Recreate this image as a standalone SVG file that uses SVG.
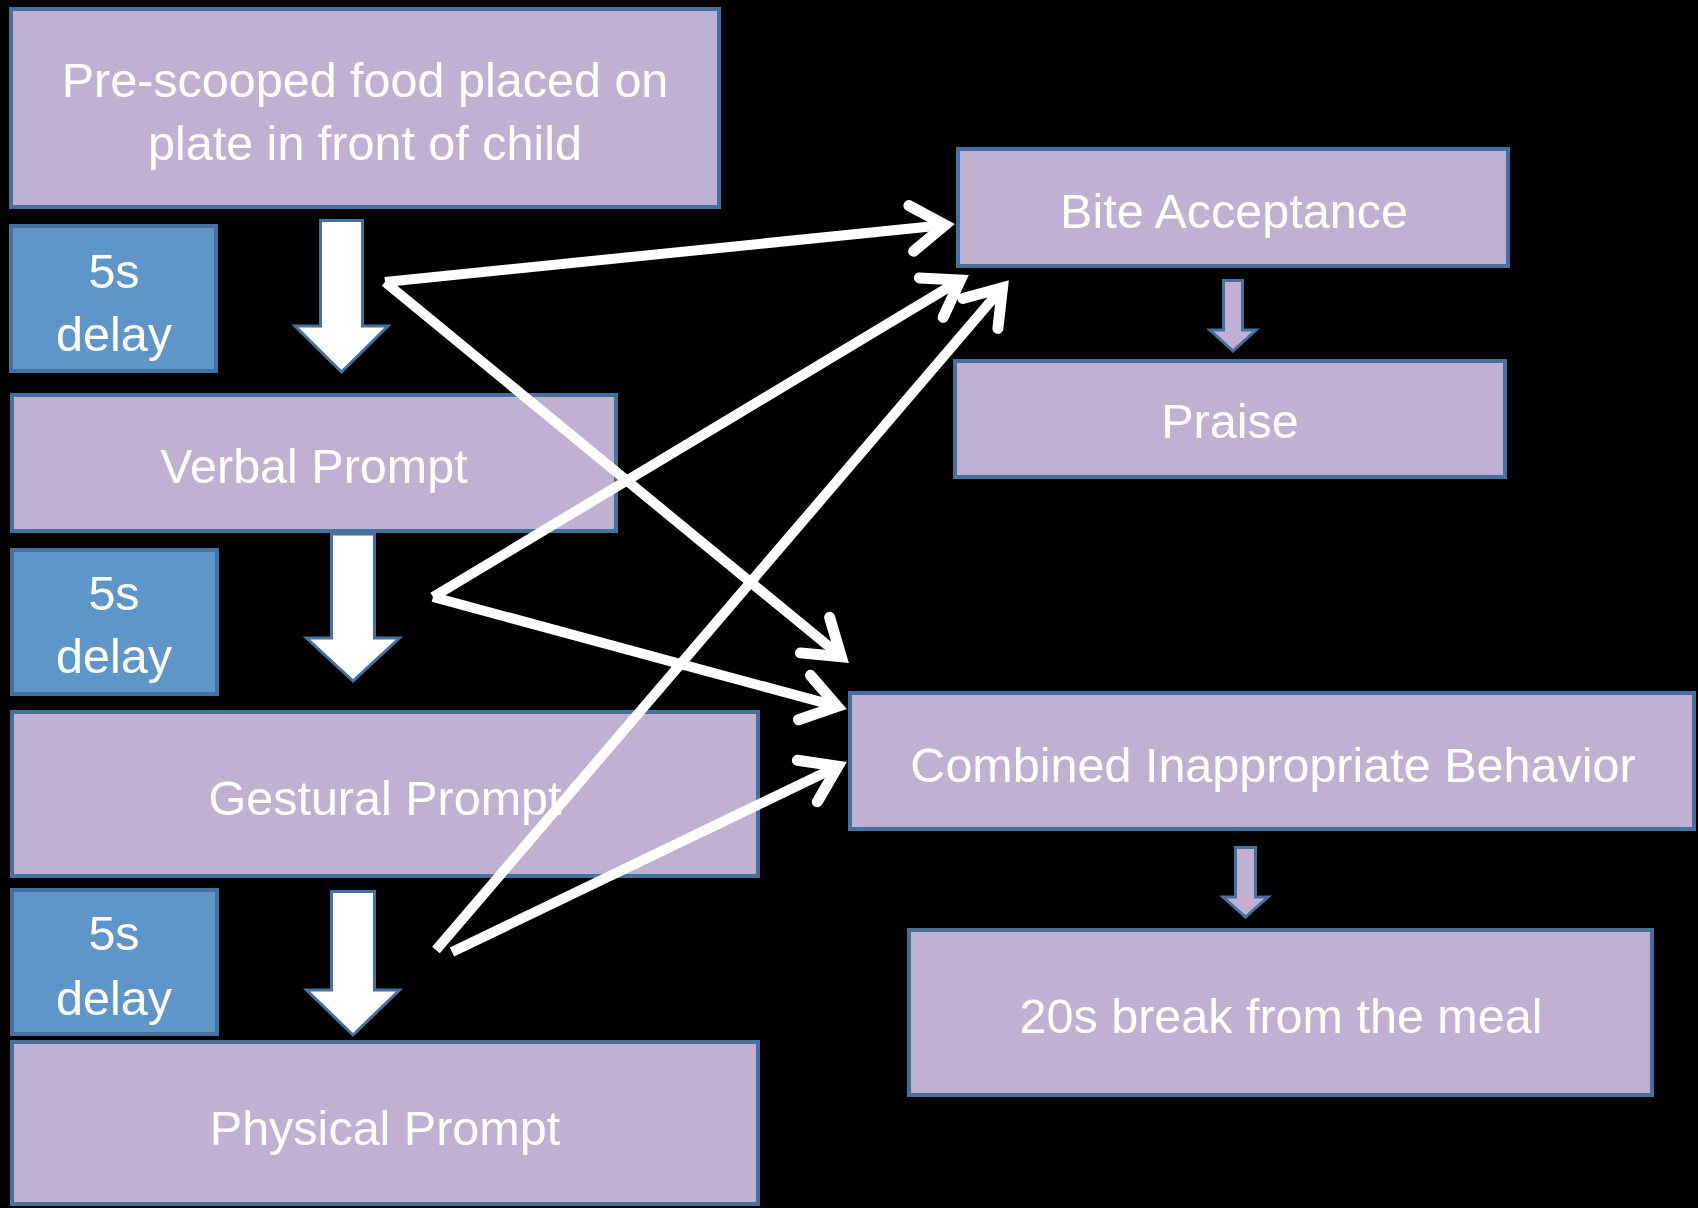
<svg xmlns="http://www.w3.org/2000/svg" width="1698" height="1208" viewBox="0 0 1698 1208">
<style>
.box{fill:#C0B1D2;stroke:#46709D;stroke-width:4}
.delay{fill:#5F96C9;stroke:#46709D;stroke-width:4}
.t{font-family:"Liberation Sans",Arial,sans-serif;font-size:48.5px;fill:#FFFFFF;text-anchor:middle}
.big{fill:#FFFFFF;stroke:#46709D;stroke-width:3;stroke-linejoin:miter}
.small{fill:#C0B1D2;stroke:#46709D;stroke-width:3;stroke-linejoin:miter}
.ln{stroke:#FFFFFF;stroke-width:10;stroke-linecap:butt;fill:none}
</style>
<defs>
<marker id="open" markerUnits="userSpaceOnUse" orient="auto" refX="0" refY="0" markerWidth="60" markerHeight="60" overflow="visible">
<path d="M-34,-23 L0,0 L-34,23" fill="none" stroke="#FFFFFF" stroke-width="11" stroke-linecap="round" stroke-linejoin="miter"/>
</marker>
</defs>
<rect x="0" y="0" width="1698" height="1208" fill="#000000"/>
<g id="node-start">
<rect class="box" x="11" y="9" width="708" height="198"/>
<text class="t" x="365" y="97">Pre-scooped food placed on</text>
<text class="t" x="365" y="160">plate in front of child</text>
</g>
<g id="node-delay1">
<rect class="delay" x="11" y="226" width="205" height="145"/>
<text class="t" x="114" y="288">5s</text>
<text class="t" x="114" y="351">delay</text>
</g>
<g id="node-verbal">
<rect class="box" x="12" y="395" width="604" height="136"/>
<text class="t" x="314" y="483">Verbal Prompt</text>
</g>
<g id="node-delay2">
<rect class="delay" x="12" y="550" width="205" height="144"/>
<text class="t" x="114" y="610">5s</text>
<text class="t" x="114" y="673">delay</text>
</g>
<g id="node-gestural">
<rect class="box" x="12" y="712" width="746" height="164"/>
<text class="t" x="385" y="815">Gestural Prompt</text>
</g>
<g id="node-delay3">
<rect class="delay" x="12" y="890" width="205" height="144"/>
<text class="t" x="114" y="950">5s</text>
<text class="t" x="114" y="1015">delay</text>
</g>
<g id="node-physical">
<rect class="box" x="12" y="1042" width="746" height="162"/>
<text class="t" x="385" y="1145">Physical Prompt</text>
</g>
<g id="node-bite">
<rect class="box" x="958" y="149" width="550" height="117"/>
<text class="t" x="1234" y="228">Bite Acceptance</text>
</g>
<g id="node-praise">
<rect class="box" x="955" y="361" width="550" height="116"/>
<text class="t" x="1230" y="438">Praise</text>
</g>
<g id="node-combined">
<rect class="box" x="850" y="693" width="844" height="136"/>
<text class="t" x="1273" y="782">Combined Inappropriate Behavior</text>
</g>
<g id="node-break">
<rect class="box" x="909" y="930" width="743" height="165"/>
<text class="t" x="1281" y="1033">20s break from the meal</text>
</g>
<g id="connectors">
<polygon class="big" points="320.5,220.5 362.5,220.5 362.5,326 388,326 341.5,372 295,326 320.5,326"/>
<polygon class="big" points="331.5,534 374.5,534 374.5,638 399.5,638 353,681 306.5,638 331.5,638"/>
<polygon class="big" points="331.5,891.5 374.5,891.5 374.5,990 399.5,990 353,1035 306.5,990 331.5,990"/>
<polygon class="small" points="1223.5,280.5 1242.5,280.5 1242.5,330 1256,330 1233,351 1210,330 1223.5,330"/>
<polygon class="small" points="1235.5,847.5 1255.5,847.5 1255.5,897 1268,897 1245.5,917 1223,897 1235.5,897"/>
<line class="ln" x1="385" y1="282" x2="945.1" y2="225" marker-end="url(#open)"/>
<line class="ln" x1="385" y1="282" x2="841.3" y2="656.7" marker-end="url(#open)"/>
<line class="ln" x1="433" y1="597" x2="960.4" y2="280.1" marker-end="url(#open)"/>
<line class="ln" x1="433" y1="597" x2="837.3" y2="706.4" marker-end="url(#open)"/>
<line class="ln" x1="452" y1="952" x2="838" y2="766.3" marker-end="url(#open)"/>
<line class="ln" x1="436" y1="950" x2="1002.5" y2="287.6" marker-end="url(#open)"/>
</g>
</svg>
